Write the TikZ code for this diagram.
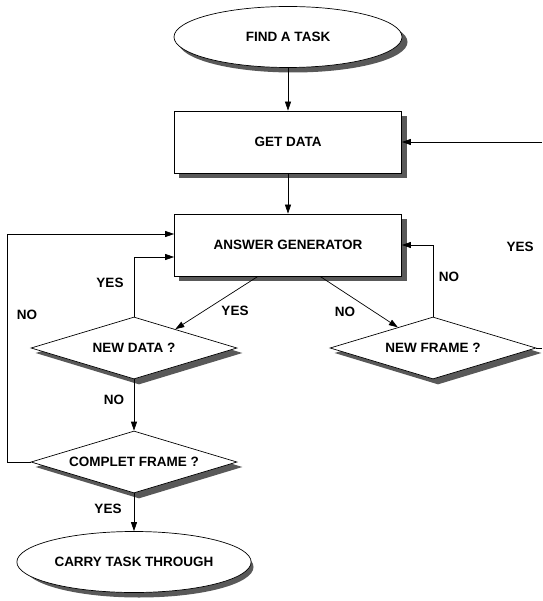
\documentclass[tikz,border=0pt]{standalone}
\usepackage{fontspec}
\setmainfont{Liberation Sans}
\usetikzlibrary{shapes.geometric,arrows.meta,calc,backgrounds}

\tikzset{
	flow/.style={draw, line width=0.7pt, fill=white,
		font=\bfseries\fontsize{13.5}{16}\selectfont},
	terminal/.style={flow, ellipse, minimum width=228pt, minimum height=61pt},
	process/.style={flow, rectangle, minimum width=227pt, minimum height=62pt},
	decision/.style={flow, diamond, shape aspect=3.3, inner sep=0pt,
		minimum width=206pt, minimum height=62pt},
	shadowfill/.style={fill=black!65},
	arr/.style={line width=0.7pt, -{Triangle[length=9pt,width=6pt]}},
	lbl/.style={font=\bfseries\fontsize{13.5}{16}\selectfont}
}

\begin{document}
\begin{tikzpicture}[x=1pt, y=-1pt]
	\useasboundingbox (0,0) rectangle (542,601);
	\node[terminal] (find) at (288,37) {FIND A TASK};
	\node[process] (get) at (288,142) {GET DATA};
	\node[process] (answer) at (288,245) {ANSWER GENERATOR};
	\node[decision] (newdata) at (134,348) {NEW DATA ?};
	\node[decision] (newframe) at (433,348) {NEW FRAME ?};
	\node[decision] (complete) at (134,462) {COMPLET FRAME ?};
	\node[terminal] (carry) at (134,562) {CARRY TASK THROUGH};
	\coordinate (edgeLow) at (542,348);
	\coordinate (edgeHigh) at (542,142);

	% shadows
	\begin{scope}[on background layer]
		\foreach \n in {find,carry}
			\fill[shadowfill] ([shift={(5,5)}]\n.center) ellipse [x radius=114.5pt, y radius=30.5pt];
		\foreach \n in {get,answer}
			\fill[shadowfill] ([shift={(5,5)}]\n.north west) rectangle ([shift={(5,5)}]\n.south east);
		\foreach \n in {newdata,newframe,complete}
			\fill[shadowfill] ([shift={(5,5)}]\n.north) -- ([shift={(5,5)}]\n.east)
				-- ([shift={(5,5)}]\n.south) -- ([shift={(5,5)}]\n.west) -- cycle;
	\end{scope}

	\draw[arr] (find) -- (get);
	\draw[arr] (get) -- (answer);
	\draw[arr] ([xshift=-30pt]answer.south) -- ($(newdata.north)!.4!(newdata.east)$);
	\draw[arr] ([xshift=32pt]answer.south) -- ($(newframe.north)!.34!(newframe.west)$);
	\draw[arr] (newdata.north) |- ([yshift=-12pt]answer.west);
	\draw[arr] (newframe.north) |- (answer.east);
	\draw[line width=0.7pt] (newframe.east) -- (edgeLow);
	\draw[arr] (edgeHigh) -- (get.east);
	\draw[arr] (newdata) -- (complete);
	\draw[arr] (complete.west) -- ++(-23,0) |- ([yshift=11pt]answer.west);
	\draw[arr] (complete) -- (carry);

	\node[lbl] (yesRight) at (520,247) {YES};
	\node[lbl] (noUp) at (449,277) {NO};
	\node[lbl] (yesMid) at (235,311) {YES};
	\node[lbl] (noMid) at (345,312) {NO};
	\node[lbl] (yesUp) at (110,283) {YES};
	\node[lbl] (noLoop) at (27,315) {NO};
	\node[lbl] (noDown) at (114,400) {NO};
	\node[lbl] (yesDown) at (108,509) {YES};
\end{tikzpicture}
\end{document}
